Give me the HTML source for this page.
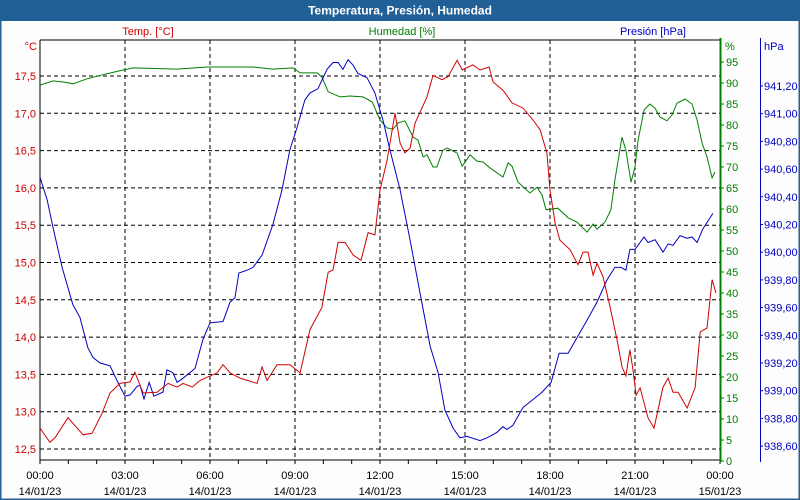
<!DOCTYPE html>
<html><head><meta charset="utf-8"><style>
body{margin:0;background:#fff;}
#wrap{position:relative;width:800px;height:500px;overflow:hidden;font-family:"Liberation Sans",sans-serif;}
svg text{font-family:"Liberation Sans",sans-serif;font-size:11px;}
</style></head><body>
<div id="wrap">
<svg id="chart" width="800" height="500" xmlns="http://www.w3.org/2000/svg">
<rect x="0" y="0" width="800" height="500" fill="#fdfdfd" stroke="#2a5f95" stroke-width="3"/>
<rect x="0" y="0" width="800" height="21" fill="#215f97"/>
<text x="400" y="14.5" text-anchor="middle" fill="#fff" font-weight="bold" style="font-size:12px">Temperatura, Presión, Humedad</text>
<rect x="40" y="40" width="680" height="420" fill="#fff"/>
<g id="grid"></g><g id="axes"></g><g id="series"></g>
<text x="148" y="35" text-anchor="middle" fill="#d00000">Temp. [°C]</text>
<text x="402" y="35" text-anchor="middle" fill="#008000">Humedad [%]</text>
<text x="686" y="35" text-anchor="end" fill="#0000c0">Presión [hPa]</text>
<text x="37" y="50" text-anchor="end" fill="#d00000">°C</text>
<text x="725" y="50" fill="#008000">%</text>
<text x="764" y="50" fill="#0000c0">hPa</text>
</svg>
</div>
<script>
const tempHours=[0,0.35,0.53,0.99,1.52,1.84,2.19,2.47,2.82,3.18,3.35,3.64,4.13,4.52,4.84,5.05,5.37,5.65,6.25,6.46,6.71,7.06,7.66,7.84,8.01,8.37,8.82,9.18,9.53,9.95,10.17,10.34,10.52,10.77,11.05,11.33,11.58,11.82,12.0,12.25,12.53,12.71,12.88,13.06,13.24,13.66,13.87,14.19,14.4,14.72,14.9,15.28,15.53,15.85,15.99,16.34,16.66,17.05,17.4,17.65,17.89,18.0,18.18,18.35,18.71,18.99,19.17,19.34,19.52,19.66,19.87,20.12,20.37,20.54,20.68,20.82,20.93,21.04,21.18,21.46,21.67,21.99,22.17,22.34,22.52,22.84,23.12,23.3,23.54,23.72,23.86];
const tempValues=[12.78,12.59,12.65,12.92,12.69,12.71,12.98,13.25,13.38,13.4,13.53,13.25,13.26,13.38,13.33,13.38,13.33,13.42,13.52,13.63,13.52,13.45,13.38,13.6,13.42,13.63,13.63,13.52,14.1,14.4,14.87,14.9,15.27,15.27,15.1,15.03,15.4,15.37,15.97,16.37,17.0,16.6,16.47,16.53,16.87,17.22,17.51,17.45,17.49,17.71,17.58,17.65,17.58,17.62,17.42,17.31,17.14,17.07,16.91,16.78,16.47,15.97,15.53,15.3,15.17,14.97,15.14,15.14,14.83,14.99,14.81,14.4,13.96,13.6,13.48,13.83,13.56,13.22,13.32,12.92,12.78,13.33,13.45,13.26,13.26,13.05,13.32,14.07,14.12,14.77,14.59];
const humHours=[0,0.46,0.88,1.16,1.66,2.29,2.82,3.28,4.84,5.89,7.52,8.22,8.93,9.18,9.78,9.95,10.17,10.59,10.94,11.4,11.72,12.0,12.25,12.46,12.64,12.88,13.17,13.34,13.52,13.66,13.87,14.01,14.22,14.37,14.72,14.9,15.18,15.42,15.64,15.88,16.34,16.52,16.66,16.87,17.29,17.54,17.72,17.86,18.28,18.64,18.95,19.31,19.52,19.66,19.94,20.15,20.29,20.54,20.68,20.86,21.0,21.11,21.32,21.53,21.71,21.88,22.13,22.31,22.48,22.77,23.01,23.19,23.37,23.54,23.72,23.82];
const humValues=[89.5,90.5,90.2,89.8,91.0,92.1,92.9,93.6,93.3,93.8,93.8,93.3,93.6,92.4,92.4,91.4,87.9,86.7,86.9,86.7,85.5,81.2,79.3,79.0,80.5,81.0,77.1,76.4,72.4,72.9,70.0,70.0,74.0,74.5,73.3,70.2,72.9,71.4,71.2,69.8,67.6,71.0,70.2,66.4,63.8,65.2,63.3,59.8,60.2,57.9,56.9,54.5,56.4,55.2,56.9,59.8,66.9,77.1,74.0,66.4,70.0,76.4,83.6,85.0,84.0,81.9,81.0,82.4,85.2,86.2,85.0,81.2,75.7,72.4,67.4,68.8];
const presHours=[0,0.25,0.46,0.78,1.16,1.41,1.69,1.87,2.12,2.47,2.75,3.0,3.18,3.42,3.53,3.67,3.85,4.02,4.34,4.48,4.69,4.84,5.05,5.47,5.75,6.0,6.46,6.71,6.88,7.02,7.31,7.52,7.84,8.22,8.54,8.82,9.07,9.35,9.53,9.81,10.13,10.34,10.52,10.69,10.87,11.05,11.22,11.54,11.82,12.11,12.35,12.71,13.06,13.41,13.77,14.05,14.29,14.58,14.82,15.07,15.53,15.78,16.13,16.34,16.48,16.69,17.05,17.36,17.72,18.04,18.32,18.64,19.06,19.31,19.66,20.01,20.29,20.51,20.68,20.82,21.0,21.32,21.46,21.71,21.99,22.17,22.34,22.59,22.84,23.01,23.19,23.4,23.75];
const presValues=[940.54,940.38,940.18,939.89,939.62,939.53,939.31,939.24,939.2,939.18,939.06,938.96,938.97,939.03,939.04,938.94,939.06,938.96,938.99,939.15,939.13,939.06,939.09,939.16,939.37,939.49,939.5,939.64,939.67,939.85,939.87,939.89,939.98,940.2,940.45,940.74,940.9,941.1,941.15,941.18,941.32,941.37,941.37,941.32,941.39,941.35,941.29,941.26,941.15,940.95,940.74,940.45,940.09,939.71,939.32,939.13,938.86,938.73,938.66,938.67,938.64,938.66,938.7,938.74,938.72,938.75,938.88,938.93,938.99,939.06,939.27,939.27,939.42,939.51,939.64,939.8,939.89,939.89,939.87,940.02,940.02,940.11,940.07,940.09,940.0,940.06,940.05,940.12,940.1,940.11,940.07,940.17,940.28];
const tempTicks=[12.5,13.0,13.5,14.0,14.5,15.0,15.5,16.0,16.5,17.0,17.5];
const humTicks=[0,5,10,15,20,25,30,35,40,45,50,55,60,65,70,75,80,85,90,95];
const presTicks=[938.6,938.8,939.0,939.2,939.4,939.6,939.8,940.0,940.2,940.4,940.6,940.8,941.0,941.2];
const timeTicks=[0,3,6,9,12,15,18,21,24];
const timeLabels=["00:00","03:00","06:00","09:00","12:00","15:00","18:00","21:00","00:00"];
const dateLabels=["14/01/23","14/01/23","14/01/23","14/01/23","14/01/23","14/01/23","14/01/23","14/01/23","15/01/23"];

const NS="http://www.w3.org/2000/svg";
const X=h=>40+h*680/24;
const YT=t=>76+(17.5-t)*74.6;
const YH=v=>461-v*4.2;
const YP=p=>86+(941.2-p)*138.5;
function mk(tag,attrs,parent,txt){const e=document.createElementNS(NS,tag);for(const k in attrs)e.setAttribute(k,attrs[k]);if(txt!==undefined)e.textContent=txt;parent.appendChild(e);return e;}
const grid=document.getElementById('grid'),axes=document.getElementById('axes'),series=document.getElementById('series');
tempTicks.forEach(t=>{
  const l=mk('line',{x1:40,x2:720,y1:YT(t),y2:YT(t),stroke:'#000','stroke-dasharray':'4,3','stroke-width':1},grid);
  
  
  const tx=mk('text',{x:36,y:YT(t)+4,'text-anchor':'end',fill:'#d00000'},axes,t.toFixed(1).replace('.',','));
  
  
});
timeTicks.forEach((h,i)=>{
  if(h>0&&h<24){const l=mk('line',{x1:X(h),x2:X(h),y1:40,y2:460,stroke:'#000','stroke-dasharray':'4,3'},grid);
  
  }
  const a=mk('text',{x:X(h),y:479,'text-anchor':'middle',fill:'#000'},axes,timeLabels[i]);
  
  
  const b=mk('text',{x:X(h),y:495,'text-anchor':'middle',fill:'#000'},axes,dateLabels[i]);
  
  
});
for(let h=0;h<=24;h++){const t=mk('line',{x1:X(h),x2:X(h),y1:460,y2:464,stroke:'#000'},axes);
  
  }
const ax=mk('path',{d:'M40 40H720M40 40V460H720',stroke:'#000',fill:'none'},axes);


const ga=mk('line',{x1:720.5,x2:720.5,y1:38,y2:462,stroke:'#008000','stroke-width':2},axes);


humTicks.forEach(v=>{
  const t=mk('line',{x1:721,x2:724,y1:YH(v),y2:YH(v),stroke:'#008000'},axes);
  
  
  const tx=mk('text',{x:726,y:YH(v)+4,fill:'#008000'},axes,String(v));
  
  
});
const ba=mk('line',{x1:760.5,x2:760.5,y1:38,y2:462,stroke:'#0000c0'},axes);


presTicks.forEach(v=>{
  const t=mk('line',{x1:760,x2:763,y1:YP(v),y2:YP(v),stroke:'#0000c0'},axes);
  
  
  const tx=mk('text',{x:764,y:YP(v)+4,fill:'#0000c0'},axes,v.toFixed(2).replace('.',','));
  
  
});
function line(hs,vs,fy,col,name){
  const d=hs.map((h,i)=>(i?'L':'M')+X(h).toFixed(1)+' '+fy(vs[i]).toFixed(1)).join('');
  const p=mk('path',{d:d,stroke:col,fill:'none','stroke-width':1},series);
  
  
}
line(humHours,humValues,YH,'#008000','humidity-line');
line(presHours,presValues,YP,'#0000c0','pressure-line');
line(tempHours,tempValues,YT,'#d00000','temperature-line');
</script>
</body></html>
